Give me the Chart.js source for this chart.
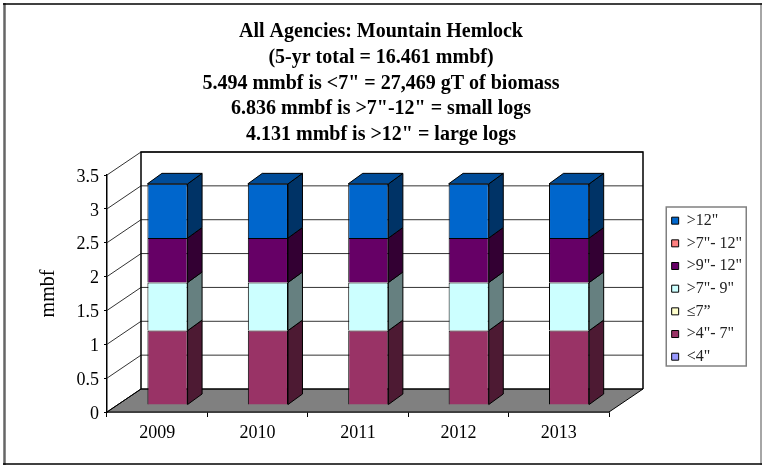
<!DOCTYPE html>
<html><head><meta charset="utf-8">
<style>html,body{margin:0;padding:0;background:#fff}#w{width:762px;height:465px;position:relative}</style>
<script src="https://cdn.jsdelivr.net/npm/chart.js@4"></script></head>
<body><div id="w"><canvas id="c" width="762" height="465"></canvas></div>
<script>
const years = ['2009','2010','2011','2012','2013'];
const under4 = [0,0,0,0,0];
const from4to7 = [1.099,1.099,1.099,1.099,1.099];
const upTo7 = [0,0,0,0,0];
const from7to9 = [0.71,0.71,0.71,0.71,0.71];
const from9to12 = [0.657,0.657,0.657,0.657,0.657];
const from7to12 = [0,0,0,0,0];
const over12 = [0.80,0.80,0.80,0.80,0.80];
const titleLines = ['All Agencies: Mountain Hemlock','(5-yr total = 16.461 mmbf)','5.494 mmbf is <7" = 27,469 gT of biomass','6.836 mmbf is >7"-12" = small logs','4.131 mmbf is >12" = large logs'];
const serif = '"Liberation Serif","Times New Roman",serif';
const D = {x:34,y:23};      // wall depth
const B = {x:14.5,y:10.5};  // bar depth
const S = {x:10.3,y:7};     // bar offset inside floor
const sides = {'#0066CC':'#003366','#660066':'#330033','#CCFFFF':'#668080','#993366':'#4D1A33','#FF8080':'#804040','#FFFFCC':'#808066','#9999FF':'#4D4D80'};
function poly(ctx,pts,fill,stroke,lw){ctx.beginPath();pts.forEach((p,i)=>i?ctx.lineTo(p[0],p[1]):ctx.moveTo(p[0],p[1]));ctx.closePath();if(fill){ctx.fillStyle=fill;ctx.fill();}if(stroke){ctx.strokeStyle=stroke;ctx.lineWidth=lw||1;ctx.stroke();}}
function seg(ctx,x1,y1,x2,y2,c,w){ctx.beginPath();ctx.moveTo(x1,y1);ctx.lineTo(x2,y2);ctx.strokeStyle=c;ctx.lineWidth=w;ctx.stroke();}
const threeD = {
  id:'threeD',
  afterLayout(chart){
    const l=chart.legend; const w=l.width,h=l.height;
    l.left=665;l.top=206;l.right=l.left+w;l.bottom=l.top+h;
    const t=chart.titleBlock; t.left=0;t.right=762;t.width=762;
  },
  beforeDraw(chart){
    const ctx=chart.ctx;ctx.save();
    ctx.fillStyle='#fff';ctx.fillRect(0,0,762,465);
    seg(ctx,4.5,3,4.5,465,'#666',2.5);
    seg(ctx,761,3,761,465,'#888',1.5);
    seg(ctx,3,4,762,4,'#000',1.5);
    seg(ctx,3,464,762,464,'#000',1.5);
    ctx.restore();
  },
  beforeDatasetsDraw(chart){
    const ctx=chart.ctx,a=chart.chartArea,y=chart.scales.y;
    ctx.save();
    poly(ctx,[[a.left,a.bottom],[a.left+D.x,a.bottom-D.y],[a.right+D.x,a.bottom-D.y],[a.right,a.bottom]],'#808080','#000',1);
    for(const v of y.ticks.map(t=>t.value)){
      const p=y.getPixelForValue(v);
      ctx.beginPath();ctx.moveTo(a.left,p);ctx.lineTo(a.left+D.x,p-D.y);
      ctx.lineTo(a.right+D.x,p-D.y);
      ctx.strokeStyle=v===0?'#000':'#333';ctx.lineWidth=1;ctx.stroke();
    }
    ctx.beginPath();ctx.moveTo(a.left+D.x,a.bottom-D.y);ctx.lineTo(a.left+D.x,a.top-D.y);ctx.lineTo(a.right+D.x,a.top-D.y);ctx.lineTo(a.right+D.x,a.bottom-D.y);
    ctx.strokeStyle='#000';ctx.lineWidth=1.5;ctx.stroke();
    ctx.restore();
    ctx.save();ctx.translate(S.x,-S.y);
  },
  afterDatasetsDraw(chart){
    const ctx=chart.ctx;
    let topIdx=-1;
    chart.data.datasets.forEach((ds,i)=>{
      if(ds.data.some(v=>v>0))topIdx=i;
    });
    chart.data.datasets.forEach((ds,i)=>{
      if(!ds.data.some(v=>v>0))return;
      chart.getDatasetMeta(i).data.forEach(bar=>{
        const r=bar.x+bar.width/2,l=bar.x-bar.width/2;
        poly(ctx,[[r,bar.y],[r+B.x,bar.y-B.y],[r+B.x,bar.base-B.y],[r,bar.base]],sides[ds.backgroundColor],'#000',1);
        if(i===topIdx) poly(ctx,[[l,bar.y],[l+B.x,bar.y-B.y],[r+B.x,bar.y-B.y],[r,bar.y]],'#004C99','#000',1);
      });
    });
    ctx.restore();
  },
  afterDraw(chart){
    const ctx=chart.ctx;ctx.save();
    ctx.strokeStyle='#808080';ctx.lineWidth=1.5;ctx.strokeRect(666.25,207,80,159);
    ctx.restore();
  }
};
const mk=(label,data,color)=>({label,data,backgroundColor:color,borderColor:'#000',borderWidth:1,stack:'a'});
new Chart(document.getElementById('c'),{
  type:'bar',
  data:{labels:years,datasets:[
    mk('<4"',under4,'#9999FF'),
    mk('>4"- 7"',from4to7,'#993366'),
    mk('≤7”',upTo7,'#FFFFCC'),
    mk('>7"- 9"',from7to9,'#CCFFFF'),
    mk('>9"- 12"',from9to12,'#660066'),
    mk('>7"- 12"',from7to12,'#FF8080'),
    mk('>12"',over12,'#0066CC')
  ]},
  plugins:[threeD],
  options:{
    responsive:false,animation:false,
    layout:{padding:{top:14,left:37,right:153,bottom:0}},
    datasets:{bar:{categoryPercentage:1,barPercentage:0.4}},
    plugins:{
      tooltip:{enabled:false},
      title:{display:true,text:titleLines,color:'#000',font:{family:serif,size:20,weight:'bold',lineHeight:1.29},padding:{top:5,bottom:27}},
      legend:{position:'chartArea',align:'start',reverse:true,labels:{boxWidth:7,boxHeight:7,padding:6.67,color:'#222',font:{family:serif,size:16}}}
    },
    scales:{
      x:{stacked:true,grid:{drawOnChartArea:false,color:'#000',tickLength:5},border:{color:'#000',width:1.5},
         ticks:{color:'#000',font:{family:serif,size:18},padding:5,maxRotation:0},
         afterFit(s){s.height=53;}},
      y:{stacked:true,min:0,max:3.5,grid:{drawOnChartArea:false,color:'#000',tickLength:3},border:{color:'#000',width:1.5},
         ticks:{stepSize:0.5,color:'#000',font:{family:serif,size:18},padding:5,labelOffset:2,callback:v=>String(v)},
         title:{display:true,text:'mmbf',color:'#000',font:{family:serif,size:20},padding:0},
         afterFit(s){s.width=70;}}
    }
  }
});
</script></body></html>
